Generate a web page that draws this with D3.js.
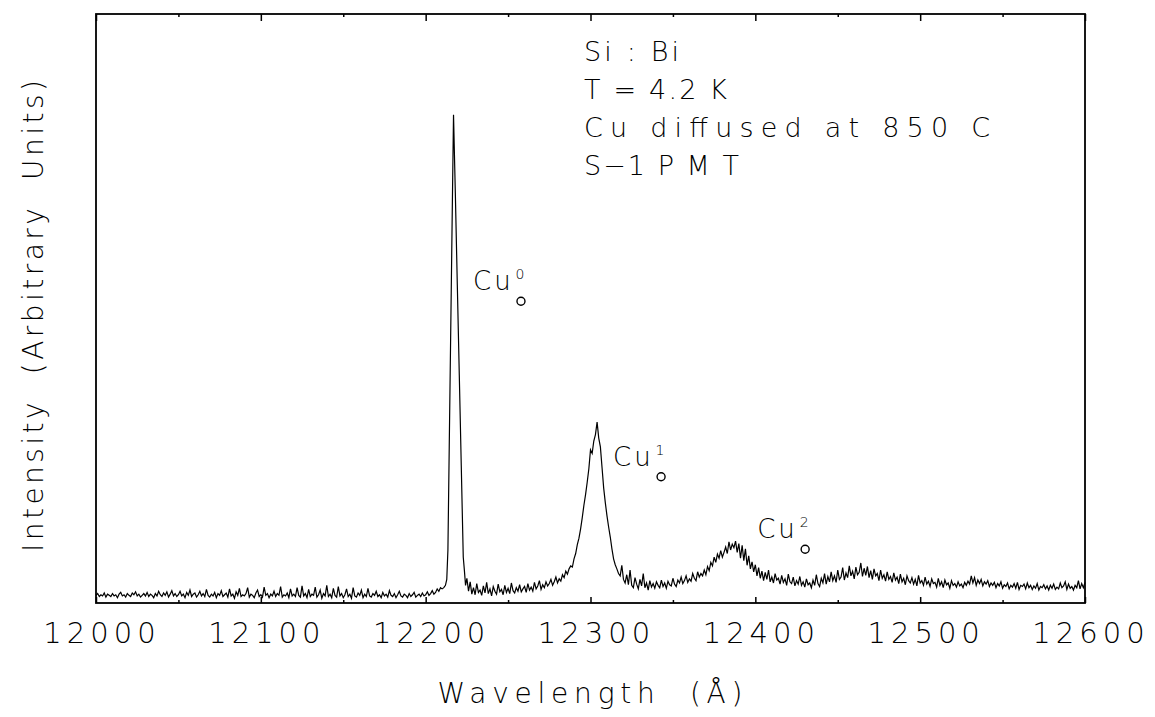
<!DOCTYPE html>
<html>
<head>
<meta charset="utf-8">
<script src="https://cdn.jsdelivr.net/npm/d3@7"></script>
<style>
  html, body { margin: 0; padding: 0; background: #fff; }
  svg { display: block; }
  text { font-family: "DejaVu Sans", sans-serif; font-weight: 200; fill: #000; white-space: pre; }
</style>
</head>
<body>
<svg id="chart" width="1155" height="717"></svg>
<script>
// ---------------- data ----------------
const xDomain = [12000, 12600];
const yDomain = [0, 100];
const tickValuesX = [12000, 12050, 12100, 12150, 12200, 12250, 12300, 12350, 12400, 12450, 12500, 12550, 12600];
const tickLabelsX = ["12000", "12100", "12200", "12300", "12400", "12500", "12600"];

// spectrum below the Cu0 line, one value per Å from 12000 Å
const lowStart = 12000;
const lowIntensity = [
  1.3, 1.6, 1.1, 1.4, 1.2, 1.7, 1.0, 1.5, 1.3, 1.1,
  1.6, 1.2, 1.4, 0.9, 1.5, 1.8, 1.2, 1.4, 1.0, 1.6,
  1.3, 1.1, 1.7, 1.4, 1.9, 1.2, 1.5, 1.0, 1.3, 1.6,
  1.2, 1.8, 1.1, 1.5, 1.3, 0.9, 1.6, 1.2, 2.0, 1.4,
  1.1, 1.7, 1.3, 1.9, 1.0, 1.5, 2.1, 1.2, 1.6, 1.1,
  1.4, 2.0, 1.2, 1.5, 0.9, 1.8, 1.3, 2.2, 1.1, 1.5,
  1.7, 1.0, 1.4, 2.0, 1.2, 1.6, 1.1, 2.3, 1.3, 1.0,
  1.5, 1.2, 1.8, 0.9, 1.6, 1.3, 2.1, 1.1, 1.4, 1.7,
  1.0, 2.4, 1.2, 1.5, 0.8, 1.9, 1.3, 2.5, 1.1, 1.4,
  1.2, 1.6, 2.6, 1.0, 1.5, 1.3, 0.9, 1.7, 2.2, 1.1,
  1.4, 1.0, 2.7, 1.3, 1.6, 0.9, 1.5, 1.2, 2.0, 1.1,
  1.6, 1.3, 2.8, 1.0, 1.4, 1.2, 1.7, 0.9, 2.4, 1.2,
  1.5, 1.1, 2.6, 1.3, 1.0, 2.9, 1.2, 1.6, 0.9, 2.3,
  1.1, 1.5, 1.3, 2.7, 1.0, 1.4, 2.2, 0.8, 1.6, 1.2,
  3.0, 1.1, 1.5, 0.9, 2.5, 1.3, 1.0, 2.8, 1.2, 1.6,
  0.9, 1.4, 2.4, 1.1, 1.5, 0.8, 2.6, 1.2, 1.0, 1.7,
  1.3, 2.2, 0.9, 1.5, 1.1, 2.5, 1.2, 1.0, 1.6, 1.3,
  2.0, 1.1, 1.4, 0.9, 1.8, 1.2, 1.5, 1.0, 2.1, 1.3,
  1.1, 1.6, 0.9, 1.4, 2.0, 1.2, 1.0, 1.5, 1.3, 0.9,
  1.6, 1.1, 1.4, 1.8, 1.0, 1.3, 1.5, 1.1, 1.7, 1.2,
  1.4, 1.9, 1.3, 1.6, 2.1, 1.5, 1.8, 2.4, 2.0, 2.6,
  2.4
]; // 12000 .. 12210

// Cu0 line, finely sampled
const cu0Wavelength = [12211, 12212, 12212.8, 12213.5, 12214.3, 12215.5, 12216.4, 12216.9, 12217.3, 12218.0, 12219.2, 12220.4, 12221.6, 12222.8, 12223.5, 12224.2, 12225];
const cu0Intensity  = [2.6, 3.0, 4.0, 9.0, 26.5, 52.6, 72.3, 82.9, 78.0, 69.6, 54.0, 38.7, 23.3, 7.8, 5.5, 3.0, 4.2];

// spectrum above the Cu0 line, one value per Å from 12226 Å
const highStart = 12226;
const highIntensity = [
  2.0, 3.6, 1.5, 2.6, 1.4, 3.3, 1.8, 2.2, 1.3, 2.9,
  1.7, 3.5, 1.6, 2.4, 1.2, 2.8, 2.0, 1.5, 3.2, 1.9,
  2.3, 1.4, 3.0, 1.8, 2.5, 1.6, 3.4, 2.1, 1.7, 2.6,
  2.0, 3.1, 1.9, 2.4, 2.8, 1.8, 3.3, 2.2, 2.7, 2.0,
  3.5, 2.4, 2.9, 3.8, 2.3, 3.1, 2.6, 3.6, 2.9, 3.3,
  4.0, 3.0, 3.6, 4.4, 3.4, 4.1, 3.7, 4.8, 4.3, 5.4,
  4.9, 5.8, 6.3, 6.1, 7.5, 8.4, 9.9, 11.0, 12.6, 14.5,
  16.6, 18.4, 20.5, 22.8, 26.0, 25.4, 27.5, 28.6, 30.7, 28.0,
  26.5, 23.0, 19.5, 17.0, 14.8, 12.9, 11.2, 9.2, 7.5, 6.5,
  5.8, 5.0, 4.6, 6.4, 4.0, 3.4, 4.8, 3.1, 5.6, 3.0,
  2.6, 4.3, 3.2, 2.4, 4.0, 2.9, 5.0, 2.6, 3.4, 2.2,
  3.8, 2.7, 3.3, 2.5, 3.6, 3.0, 2.6, 3.9, 2.8, 3.4,
  2.5, 3.7, 3.1, 2.9, 4.2, 3.2, 2.8, 3.9, 3.4, 4.4,
  3.3, 3.8, 4.6, 3.5, 4.1, 3.7, 5.0, 4.2, 3.8, 5.3,
  4.4, 5.0, 4.6, 5.6, 4.8, 6.2, 5.5, 6.9, 6.3, 7.8,
  6.9, 8.3, 7.6, 8.9, 7.8, 8.6, 9.5, 8.4, 10.4, 9.0,
  10.0, 9.4, 10.5, 8.6, 10.1, 7.6, 9.8, 7.2, 9.2, 6.4,
  8.0, 5.8, 7.0, 5.3, 6.5, 4.6, 6.0, 4.2, 5.4, 3.8,
  5.2, 4.0, 5.6, 3.6, 4.4, 3.4, 5.0, 3.9, 4.2, 3.2,
  4.7, 3.5, 4.1, 3.0, 4.9, 3.6, 3.3, 4.4, 2.9, 3.8,
  3.2, 4.5, 3.0, 3.6, 2.7, 4.1, 3.1, 3.4, 2.6, 3.9,
  3.0, 4.8, 3.3, 2.8, 4.2, 3.4, 5.0, 3.2, 4.5, 3.6,
  5.3, 3.8, 4.6, 3.5, 5.6, 4.0, 4.4, 6.0, 3.9, 5.1,
  4.3, 6.3, 4.6, 5.4, 4.1, 6.1, 4.8, 5.2, 6.8, 4.5,
  5.9, 4.7, 6.2, 4.3, 5.5, 4.0, 5.8, 4.6, 5.0, 3.8,
  5.6, 4.2, 4.8, 3.7, 5.3, 4.0, 4.5, 3.5, 5.1, 3.9,
  4.4, 3.3, 4.9, 3.6, 4.2, 3.1, 4.6, 3.8, 3.4, 4.3,
  3.2, 4.0, 2.9, 4.7, 3.4, 3.8, 3.0, 4.4, 3.2, 3.7,
  2.8, 4.1, 3.3, 3.5, 2.7, 4.2, 3.0, 3.6, 2.6, 3.9,
  3.1, 3.4, 2.5, 3.8, 3.0, 3.3, 2.7, 3.6, 2.9, 3.2,
  2.6, 3.5, 3.0, 3.7, 3.2, 4.6, 3.4, 4.3, 3.0, 3.9,
  3.3, 4.0, 2.9, 3.6, 3.2, 3.8, 2.8, 3.4, 3.0, 3.5,
  2.6, 3.3, 2.9, 3.6, 2.5, 3.1, 2.8, 3.4, 2.4, 3.0,
  2.7, 3.3, 2.5, 3.5, 2.3, 3.0, 2.8, 3.2, 2.4, 3.4,
  2.6, 3.0, 2.3, 2.9, 2.5, 3.3, 2.2, 2.8, 2.6, 3.1,
  2.4, 2.9, 2.2, 3.0, 2.5, 3.2, 2.3, 2.7, 2.4, 3.4,
  2.6, 2.9, 3.6, 2.3, 3.2, 2.5, 2.8, 2.2, 3.0, 2.6,
  3.8, 2.4, 3.3, 2.6, 3.5
]; // 12226 .. 12600

const annotationLines = ["Si : Bi", "T = 4.2 K", "Cu diffused at 850 C", "S\u22121 P M T"];
const peakLabelWavelength = [12228.7, 12313.7, 12401.1];
const peakLabelIntensity = [53.1, 23.3, 11.0];
const peakLabelOrder = ["0", "1", "2"];
const xAxisTitle = "Wavelength  (\u00C5)";
const yAxisTitle = "Intensity  (Arbitrary  Units)";

// --------------- build points ---------------
const points = [];
lowIntensity.forEach((v, i) => points.push([lowStart + i, v]));
cu0Wavelength.forEach((w, i) => points.push([w, cu0Intensity[i]]));
highIntensity.forEach((v, i) => points.push([highStart + i, v]));
points.sort((a, b) => a[0] - b[0]);

// --------------- layout ---------------
const svg = d3.select("#chart");
const L = 96, R = 1085, T = 14, B = 603;
const x = d3.scaleLinear().domain(xDomain).range([L, R]);
const y = d3.scaleLinear().domain(yDomain).range([B, T]);

// spectrum line
const line = d3.line().x(d => x(d[0])).y(d => y(d[1]));
svg.append("path").datum(points)
  .attr("d", line)
  .attr("fill", "none")
  .attr("stroke", "#000")
  .attr("stroke-width", 1.2)
  .attr("stroke-linejoin", "miter");

// frame
svg.append("rect")
  .attr("x", L).attr("y", T).attr("width", R - L).attr("height", B - T)
  .attr("fill", "none").attr("stroke", "#000").attr("stroke-width", 1.8);

const isMajor = v => v % 100 === 0;

// bottom axis (ticks inward)
const gB = svg.append("g").attr("transform", `translate(0,${B})`)
  .call(d3.axisBottom(x).tickValues(tickValuesX).tickSizeOuter(0).tickSizeInner(-6).tickFormat(""));
gB.select(".domain").remove();
gB.selectAll(".tick line").attr("y2", d => isMajor(d) ? -6 : -3).attr("stroke-width", 1.5);

// top axis (ticks inward)
const gT = svg.append("g").attr("transform", `translate(0,${T})`)
  .call(d3.axisTop(x).tickValues(tickValuesX).tickSizeOuter(0).tickSizeInner(-7).tickFormat(""));
gT.select(".domain").remove();
gT.selectAll(".tick line").attr("y2", d => isMajor(d) ? 7 : 3).attr("stroke-width", 1.5);

// tick labels
svg.append("g").selectAll("text")
  .data(tickLabelsX)
  .join("text")
  .attr("x", d => x(+d) + 6)
  .attr("y", 643)
  .attr("text-anchor", "middle")
  .style("font-size", "29px")
  .style("letter-spacing", "5px")
  .text(d => d);

// axis titles
svg.append("text")
  .attr("x", 590).attr("y", 703)
  .attr("text-anchor", "middle")
  .attr("textLength", 305).attr("lengthAdjust", "spacing")
  .style("font-size", "28px")
  .text(xAxisTitle);

svg.append("text")
  .attr("transform", "translate(43,316) rotate(-90)")
  .attr("text-anchor", "middle")
  .attr("textLength", 472).attr("lengthAdjust", "spacing")
  .style("font-size", "28px")
  .text(yAxisTitle);

// annotation block
const annotationWidths = [95, 143, 406, 155];
svg.append("g").selectAll("text")
  .data(annotationLines)
  .join("text")
  .attr("x", 584)
  .attr("y", (d, i) => 61 + i * 38)
  .attr("textLength", (d, i) => annotationWidths[i])
  .attr("lengthAdjust", "spacing")
  .style("font-size", "27px")
  .text(d => d);

// peak labels Cu with superscript and subscript
const pl = svg.append("g").selectAll("g").data(peakLabelOrder).join("g")
  .attr("transform", (d, i) => `translate(${x(peakLabelWavelength[i])},${y(peakLabelIntensity[i])})`);
pl.append("text").style("font-size", "26px").style("letter-spacing", "3px").text("Cu");
pl.append("text").attr("x", 47).attr("y", -11).attr("text-anchor", "middle").style("font-size", "14px").text(d => d);
pl.append("circle").attr("cx", 48).attr("cy", 11).attr("r", 4)
  .attr("fill", "none").attr("stroke", "#000").attr("stroke-width", 1.4);
</script>
</body>
</html>
